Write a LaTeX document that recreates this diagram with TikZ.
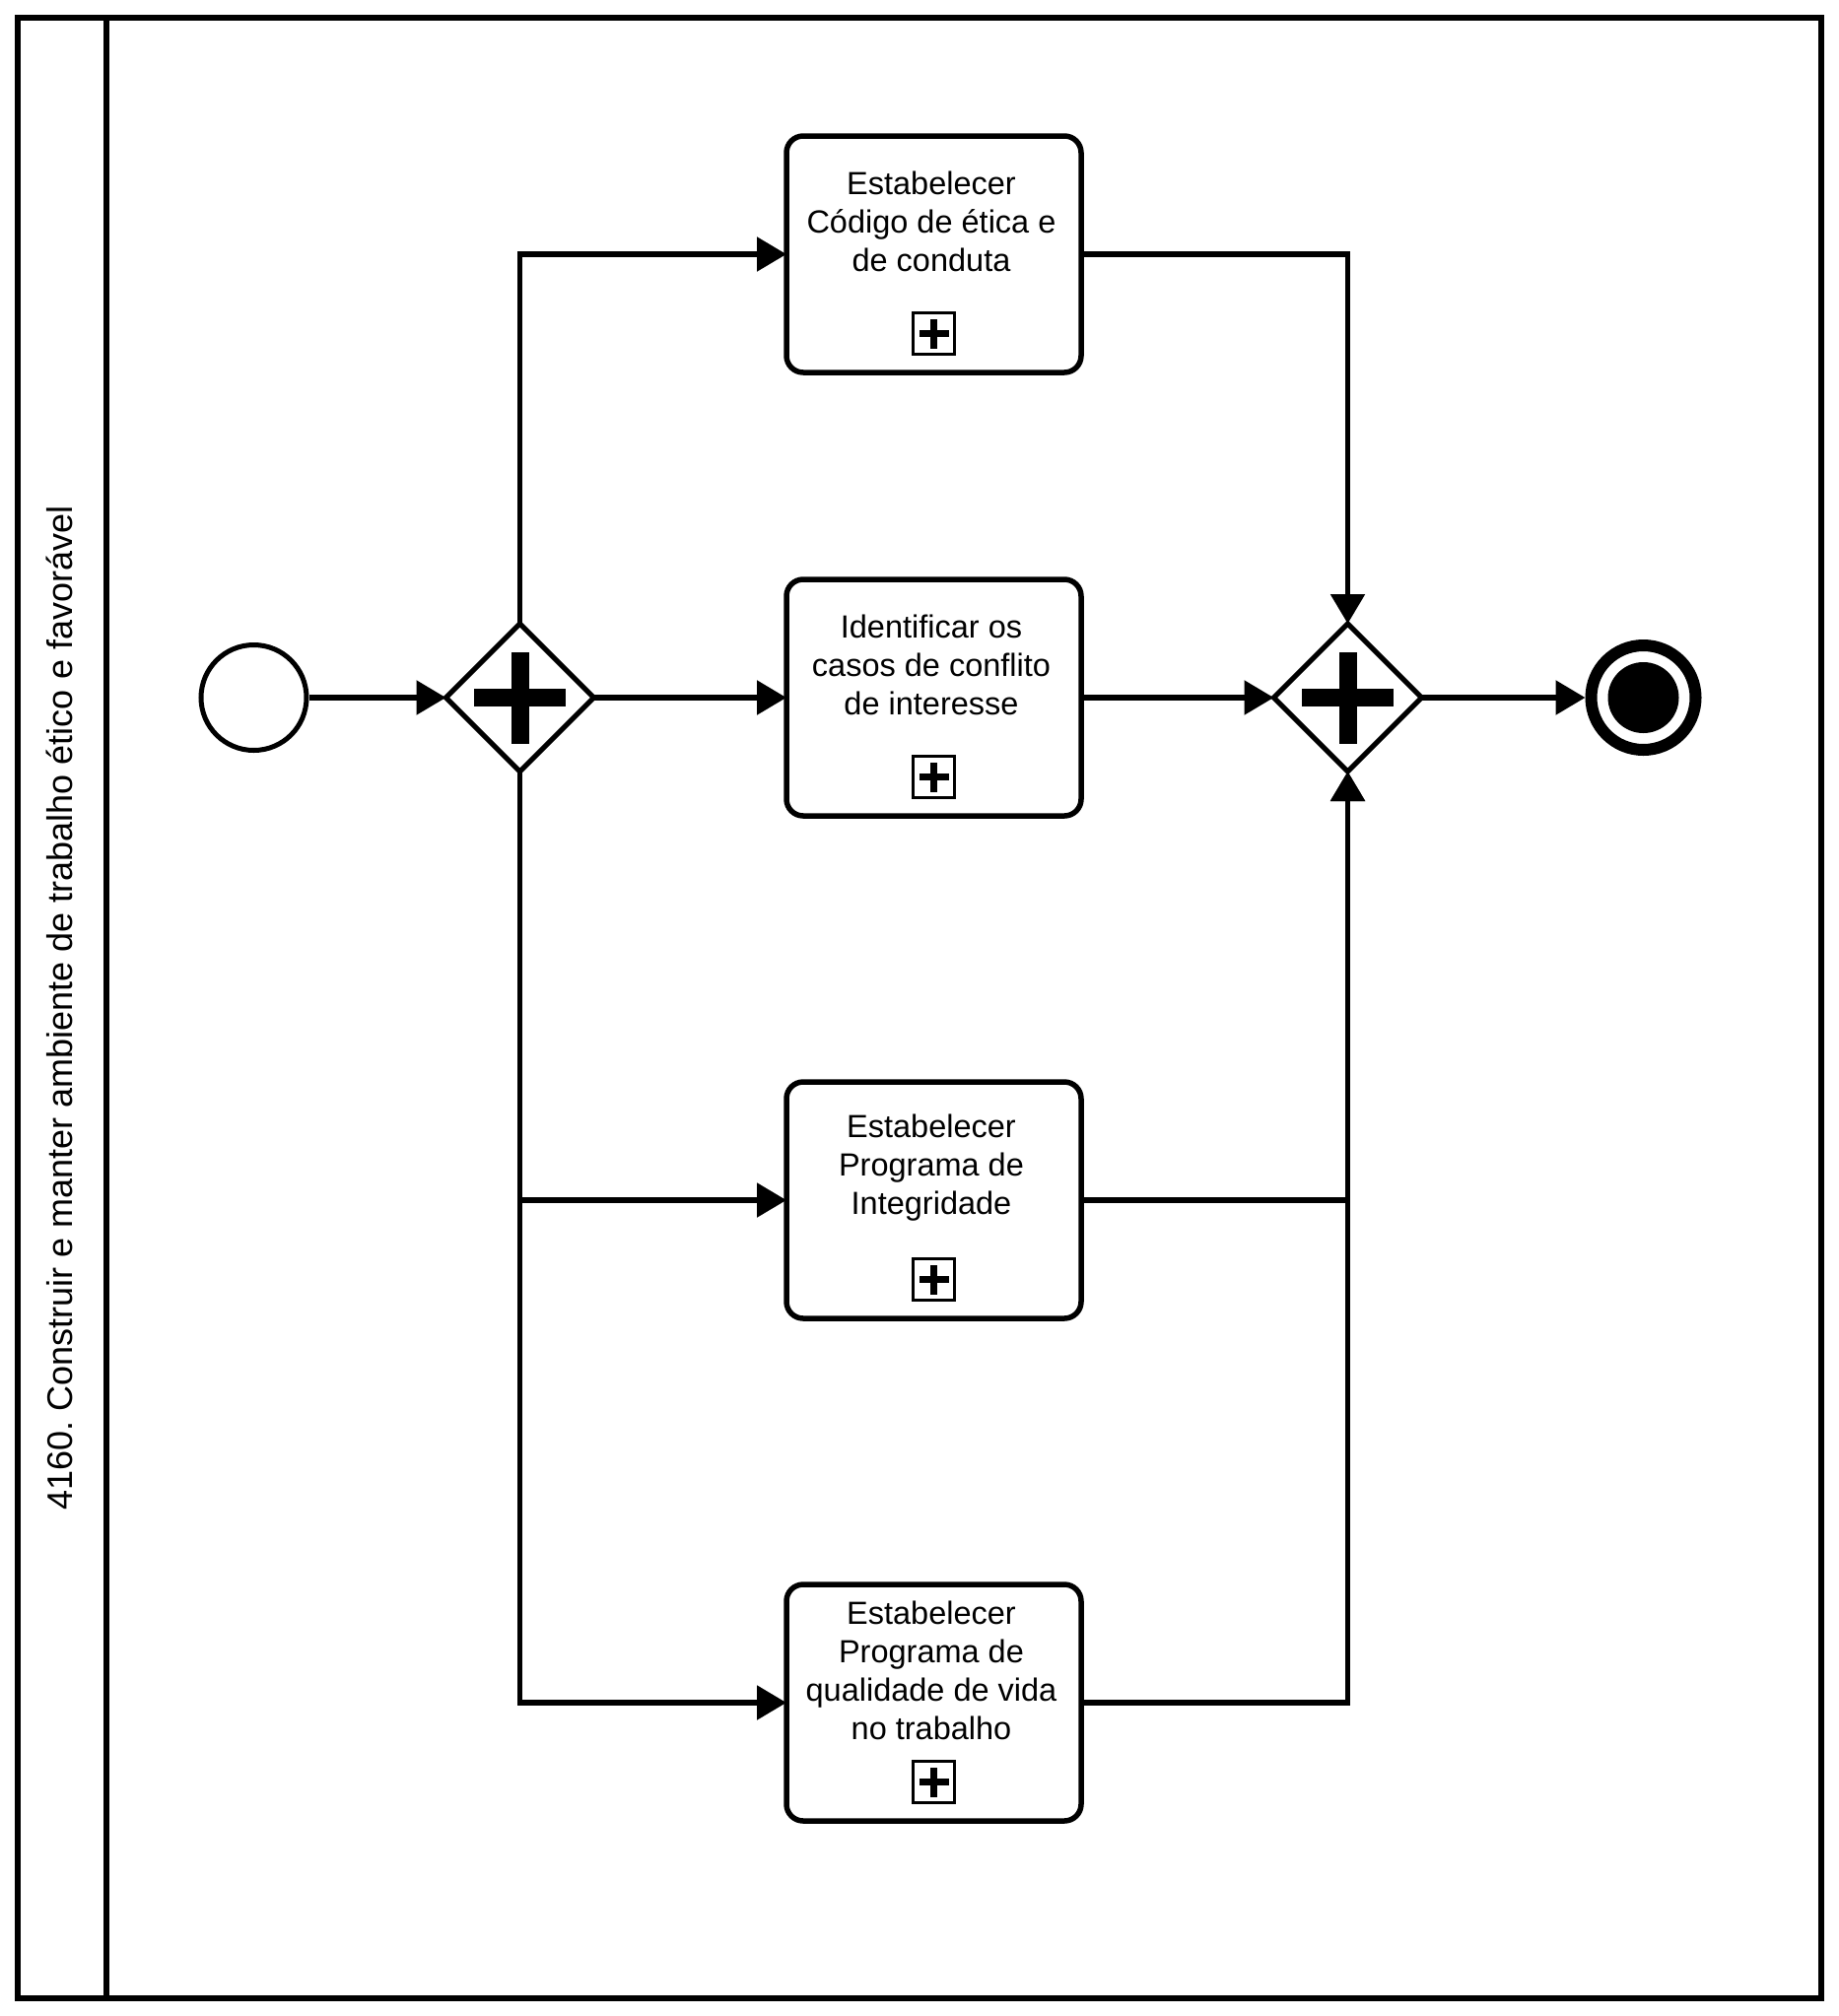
\documentclass[tikz,border=0pt]{standalone}
\usepackage{fontspec}
\setmainfont{Liberation Sans}
\usetikzlibrary{shapes.geometric,arrows.meta}
\frenchspacing
\begin{document}
\begin{tikzpicture}[x=1pt,y=-1pt,
  flow/.style={line width=5.5pt, -{Triangle[length=30pt,width=34pt]}},
  task/.style={draw, line width=5.5pt, rounded corners=17pt, minimum width=299pt,
    minimum height=240pt, inner sep=0pt, outer sep=0pt},
  tasklabel/.style={align=center, font=\fontsize{32.5pt}{39pt}\selectfont, inner sep=0pt},
  gateway/.style={draw, diamond, aspect=1, line width=5pt, minimum width=150pt,
    minimum height=150pt, inner sep=0pt, outer sep=0pt},
  startevent/.style={draw, circle, line width=5pt, minimum size=107pt, inner sep=0pt},
  endevent/.style={draw, circle, line width=12pt, minimum size=106pt, inner sep=0pt},
  gwplus/.pic={
    \fill (-46.5,-9) rectangle (46.5,9);
    \fill (-9,-46.5) rectangle (9,46.5);
  },
  submarker/.pic={
    \draw[line width=3pt, fill=white] (-21,-21) rectangle (21,21);
    \fill (-15,-3.8) rectangle (15,3.8);
    \fill (-3.8,-15) rectangle (3.8,15);
  }
]
% page
\fill[white] (0,0) rectangle (1866,2046);
\useasboundingbox (0,0) rectangle (1866,2046);

% pool and lane header
\draw[line width=5.5pt] (17.8,17.8) rectangle (1848,2028);
\draw[line width=5.5pt] (108,17.8) -- (108,2028);
\node[rotate=90, anchor=base, font=\fontsize{36pt}{43pt}\selectfont] (lanelabel)
  at (73,1023) {4160. Construir e manter ambiente de trabalho ético e favorável};

% events and gateways
\node[startevent] (start) at (257.5,708) {};
\node[gateway] (g1) at (527.5,708) {};
\pic at (g1) {gwplus};
\node[gateway] (g2) at (1367.5,708) {};
\pic at (g2) {gwplus};
\node[endevent] (end) at (1667.5,708) {};
\fill (end.center) circle[radius=36pt];

% sub-processes
\node[task] (t1) at (947.5,258) {};
\node[task] (t2) at (947.5,708) {};
\node[task] (t3) at (947.5,1218) {};
\node[task] (t4) at (947.5,1728) {};

\node[tasklabel] (l1) at ([xshift=-2.5pt,yshift=33pt]t1.center) {Estabelecer\\Código de ética e\\de conduta};
\node[tasklabel] (l2) at ([xshift=-2.5pt,yshift=33pt]t2.center) {Identificar os\\casos de conflito\\de interesse};
\node[tasklabel] (l3) at ([xshift=-2.5pt,yshift=33pt]t3.center) {Estabelecer\\Programa de\\Integridade};
\node[tasklabel] (l4) at ([xshift=-2.5pt,yshift=33pt]t4.center) {Estabelecer\\Programa de\\qualidade de vida\\no trabalho};

\foreach \t in {t1,t2,t3,t4} {
  \pic at ([yshift=39.5pt]\t.south) {submarker};
}

% sequence flows
\draw[flow] (start) -- (g1);
\draw[flow] (g1.north) |- (t1.west);
\draw[flow] (g1) -- (t2);
\draw[flow] (g1.south) |- (t3.west);
\draw[flow] (g1.south) |- (t4.west);
\draw[flow] (t1.east) -| (g2.north);
\draw[flow] (t2) -- (g2);
\draw[flow] (t3.east) -| (g2.south);
\draw[flow] (t4.east) -| (g2.south);
\draw[flow] (g2) -- (end);
\end{tikzpicture}
\end{document}
